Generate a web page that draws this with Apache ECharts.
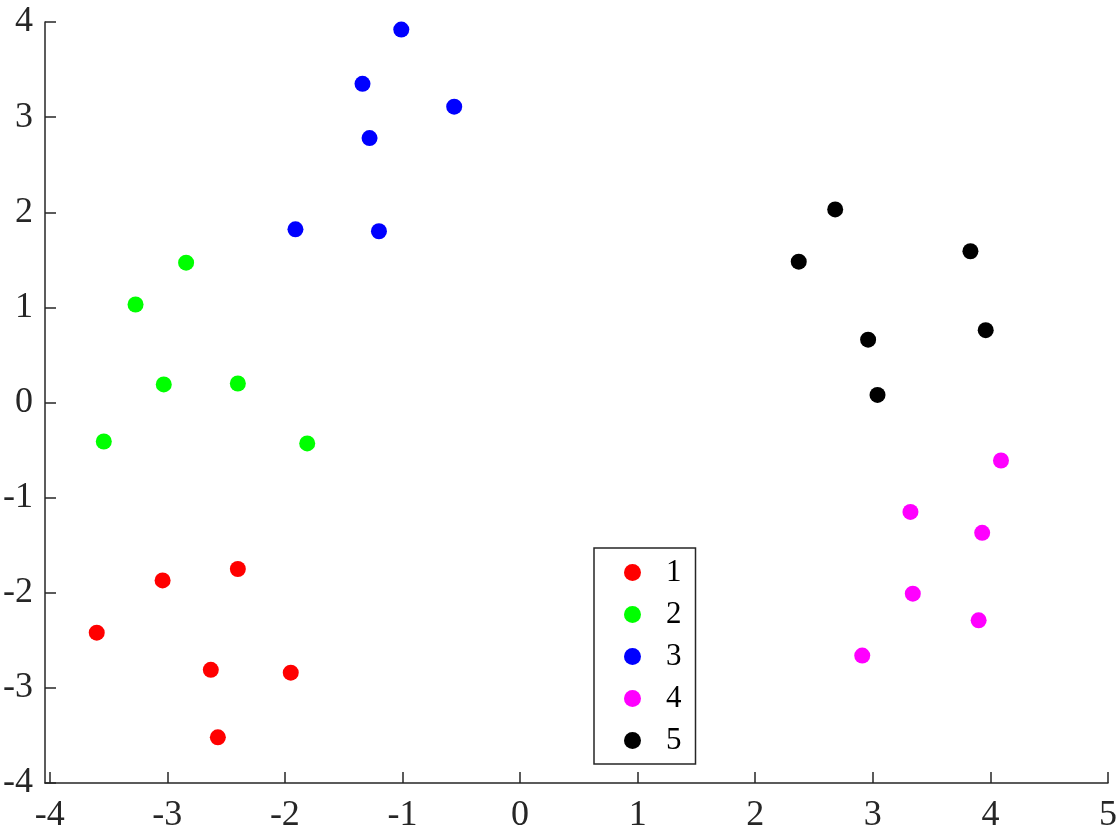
<!DOCTYPE html>
<html>
<head>
<meta charset="utf-8">
<script src="https://cdn.jsdelivr.net/npm/echarts@6/dist/echarts.min.js"></script>
<style>
html, body { margin: 0; padding: 0; background: #fff; }
#chart { width: 1120px; height: 840px; }
</style>
</head>
<body>
<div id="chart"></div>
<script>
// cluster data (x, y)
const group1 = [[-3.60, -2.42], [-3.04, -1.87], [-2.40, -1.75], [-2.63, -2.81], [-1.95, -2.84], [-2.57, -3.52]]
const group2 = [[-2.84, 1.47], [-3.27, 1.03], [-3.03, 0.19], [-2.40, 0.20], [-3.54, -0.41], [-1.81, -0.43]]
const group3 = [[-1.01, 3.92], [-1.34, 3.35], [-0.56, 3.11], [-1.28, 2.78], [-1.91, 1.82], [-1.20, 1.80]]
const group4 = [[4.09, -0.61], [3.32, -1.15], [3.93, -1.37], [3.34, -2.01], [3.90, -2.29], [2.91, -2.66]]
const group5 = [[2.68, 2.03], [2.37, 1.48], [3.83, 1.59], [2.96, 0.66], [3.96, 0.76], [3.04, 0.08]]
const groupNames = ['1', '2', '3', '4', '5']
const groupColors = ['#ff0000', '#00ff00', '#0000ff', '#ff00ff', '#000000']
const xTicks = [-4, -3, -2, -1, 0, 1, 2, 3, 4, 5]
const yTicks = [-4, -3, -2, -1, 0, 1, 2, 3, 4]

const groups = [group1, group2, group3, group4, group5]
const font = 'Liberation Serif'
const axisColor = '#262626'

let myChart = echarts.init(document.getElementById('chart'))
let option = {
    animation: false,
    grid: { left: 45, right: 10, top: 22, bottom: 57 },
    legend: {
        orient: 'vertical',
        left: 594,
        top: 548,
        padding: [9, 14, 8, 30],
        itemGap: 11,
        itemWidth: 17,
        itemHeight: 17,
        icon: 'circle',
        borderColor: '#262626',
        borderWidth: 1.5,
        backgroundColor: '#fff',
        textStyle: {
            fontFamily: font,
            fontSize: 31,
            color: '#000',
            padding: [0, 0, 0, 20],
        },
        data: groupNames,
    },
    xAxis: {
        type: 'value',
        min: -4.04,
        max: 5,
        splitLine: { show: false },
        axisLine: { onZero: false, lineStyle: { color: axisColor, width: 1.5 } },
        axisTick: {
            inside: true, length: 11, customValues: xTicks,
            lineStyle: { color: axisColor, width: 1.5 },
        },
        axisLabel: {
            customValues: xTicks,
            fontFamily: font, fontSize: 36, color: '#262626', margin: 15,
            formatter: (v) => String(v),
        },
    },
    yAxis: {
        type: 'value',
        min: -4,
        max: 4,
        splitLine: { show: false },
        axisLine: { onZero: false, lineStyle: { color: axisColor, width: 1.5 } },
        axisTick: {
            inside: true, length: 11, customValues: yTicks,
            lineStyle: { color: axisColor, width: 1.5 },
        },
        axisLabel: {
            customValues: yTicks,
            fontFamily: font, fontSize: 36, color: '#262626', margin: 12,
            formatter: (v) => String(v),
        },
    },
    series: groups.map((g, i) => ({
        name: groupNames[i],
        type: 'scatter',
        data: g,
        symbol: 'circle',
        symbolSize: 16,
        itemStyle: { color: groupColors[i], opacity: 1 },
    })),
}
myChart.setOption(option)
</script>
</body>
</html>
